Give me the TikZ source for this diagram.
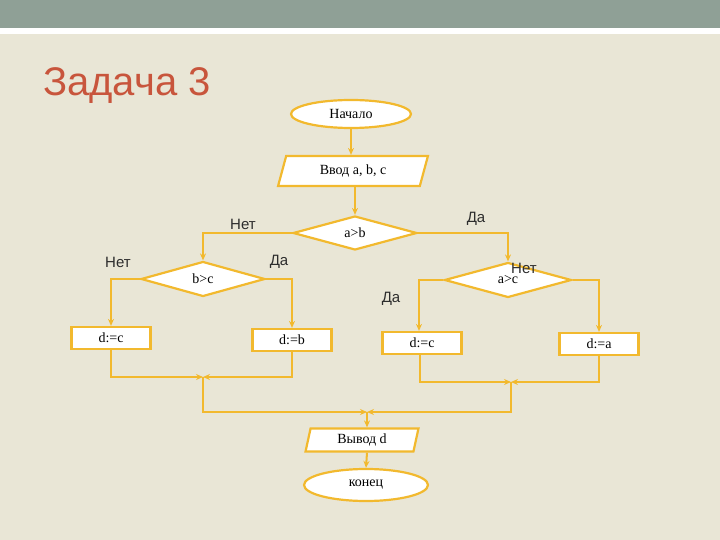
\documentclass[tikz,border=0pt]{standalone}
\usepackage{fontspec}
\setmainfont{Liberation Serif}
\newfontfamily\labfont{Liberation Sans}
\usetikzlibrary{shapes.geometric,arrows.meta}
\definecolor{band}{RGB}{143,160,150}
\definecolor{paper}{RGB}{233,230,214}
\definecolor{lineY}{RGB}{242,185,46}
\definecolor{titleC}{RGB}{200,85,60}
\definecolor{labC}{RGB}{45,45,45}
\tikzset{
  fl/.style={draw=lineY, line width=2.2pt, fill=white, font=\fontsize{14}{15}\selectfont, text=black, inner sep=0pt},
  term/.style={fl, ellipse},
  io/.style={fl, trapezium, trapezium stretches=true},
  cond/.style={fl, diamond},
  proc/.style={fl, rectangle, minimum width=79pt, minimum height=22pt},
  conn/.style={draw=lineY, line width=2pt},
  arr/.style={conn, -{Stealth[length=7pt,width=6pt]}},
  lab/.style={font=\labfont\fontsize{15}{16}\selectfont, text=labC, inner sep=1pt},
}
\begin{document}
\begin{tikzpicture}[x=1pt,y=-1pt]
\useasboundingbox (0,0) rectangle (720,540);
\fill[paper] (0,0) rectangle (720,540);
\fill[band] (0,0) rectangle (720,28);
\fill[white] (0,28) rectangle (720,34);
\node[anchor=base west, text=titleC, font=\labfont\fontsize{40}{40}\selectfont, inner sep=0pt] (title) at (43,96) {Задача 3};

\node[term, minimum width=120pt, minimum height=28pt] (start) at (351,114) {Начало};
\node[io, minimum width=150pt, minimum height=30pt, trapezium left angle=72, trapezium right angle=108] (input) at (353,171) {Ввод a, b, c};
\node[cond, minimum width=124pt, minimum height=34pt] (ab) at (355,233) {a>b};
\node[cond, minimum width=124pt, minimum height=35pt] (bc) at (203,279) {b>c};
\node[cond, minimum width=127pt, minimum height=35pt] (ac) at (508,280) {a>c};
\node[proc] (dc1) at (111,338) {d:=c};
\node[proc] (db) at (292,340) {d:=b};
\node[proc] (dc2) at (422,343) {d:=c};
\node[proc] (da) at (599,344) {d:=a};
\node[io, minimum width=113pt, minimum height=23pt, trapezium left angle=79, trapezium right angle=101] (out) at (362,440) {Вывод d};
\node[term, minimum width=124pt, minimum height=32pt] (end) at (366,485) {конец};

\coordinate (j1) at (203,377);
\coordinate (j2) at (511,382);
\coordinate (j3) at (367,412);

\draw[arr] (start) -- (start.south |- input.north);
\draw[arr] (input.south -| ab.north) -- (ab.north);
\draw[arr] (ab.west) -| (bc.north);
\draw[arr] (ab.east) -| (ac.north);
\draw[arr] (bc.west) -| (dc1.north);
\draw[arr] (bc.east) -| (db.north);
\draw[arr] (ac.west) -| (dc2.north -| 419,0);
\draw[arr] (ac.east) -| (da.north);
\draw[arr] (dc1.south) |- (j1);
\draw[arr] (db.south) |- (j1);
\draw[arr] (dc2.south -| 420,0) |- (j2);
\draw[arr] (da.south) |- (j2);
\draw[arr] (j1) |- (j3);
\draw[arr] (j2) |- (j3);
\draw[arr] (j3) -- (j3 |- out.north);
\draw[arr] (out.south -| j3) -- (end.north);

\node[lab] (l1) at (243,224) {Нет};
\node[lab] (l2) at (476,219) {Да};
\node[lab] (l3) at (118,262) {Нет};
\node[lab] (l4) at (279,262) {Да};
\node[lab] (l5) at (524,268) {Нет};
\node[lab] (l6) at (391,299) {Да};
\end{tikzpicture}
\end{document}
